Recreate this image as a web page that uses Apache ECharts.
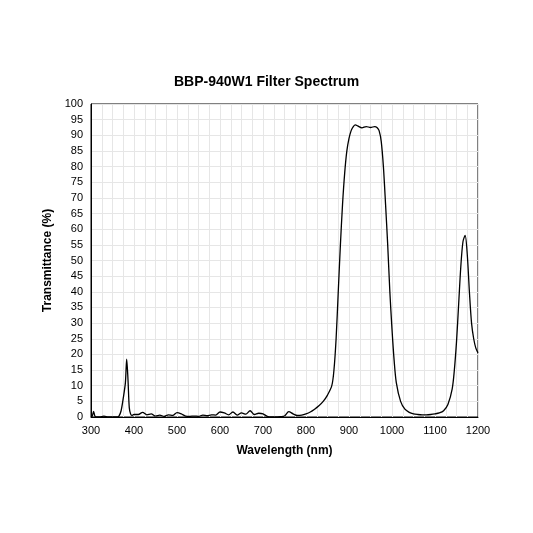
<!DOCTYPE html><html><head><meta charset="utf-8"><script src="https://cdn.jsdelivr.net/npm/echarts@6/dist/echarts.min.js"></script></head><body style="margin:0"><div id="c" style="width:533px;height:533px"></div><script>
const wavelength=[300,303,306,309,312,320,330,340,350,360,365,370,375,380,383,386,389,392,395,400,410,420,430,440,450,460,470,480,490,500,510,520,530,540,550,560,570,580,590,600,610,620,630,640,650,660,670,680,690,700,710,720,730,740,750,760,770,780,790,800,810,820,830,840,850,860,865,870,875,880,885,890,895,900,905,910,915,920,930,940,950,960,965,970,975,980,985,990,995,1000,1005,1010,1020,1030,1040,1050,1060,1070,1080,1090,1100,1110,1120,1130,1140,1145,1150,1155,1160,1165,1170,1175,1180,1185,1190,1195,1200];
const transmittance=[0,0.3,1.8,0.3,0,0,0.3,0,0,0,0.3,2,6,11,18.5,12,3,1,0.5,0.8,0.8,1.5,0.7,1,0.3,0.6,0.2,0.7,0.5,1.4,1,0.3,0.2,0.3,0.2,0.6,0.4,0.7,0.6,1.6,1.3,0.7,1.6,0.6,1.3,0.9,2,0.8,1.2,1,0.2,0,0,0.1,0.3,1.7,1,0.5,0.6,1,1.6,2.5,3.6,5,7,10,15,25,40,55,68,78,85,89,91.5,92.8,93.3,93,92.4,92.8,92.5,92.8,92.5,91.5,88,80,68,55,40,28,18,11,5,2.5,1.5,1,0.8,0.7,0.7,0.8,1,1.3,2,4,9,15,24,36,48,56,58,52,40,30,25,22,20.5];
const chart=echarts.init(document.getElementById('c'));
const data=wavelength.map((w,i)=>[w,transmittance[i]]);
chart.setOption({
 title:{text:'BBP-940W1 Filter Spectrum',left:'center',top:70,textStyle:{fontFamily:'Liberation Sans',fontSize:14,fontWeight:'bold',color:'#000'}},
 grid:{left:91,right:55,top:104,bottom:116,show:true,borderColor:'#000',borderWidth:1},
 xAxis:{type:'value',min:300,max:1200,interval:100,name:'Wavelength (nm)',nameLocation:'middle',nameGap:28,
  nameTextStyle:{fontFamily:'Liberation Sans',fontSize:12,fontWeight:'bold',color:'#000'},
  axisLine:{lineStyle:{color:'#000'}},axisTick:{show:false},axisLabel:{color:'#000',fontFamily:'Liberation Sans',fontSize:11,formatter:v=>String(v)},
  splitLine:{show:true,lineStyle:{color:'#e6e6e6'}},minorTick:{show:false,splitNumber:4},minorSplitLine:{show:true,lineStyle:{color:'#e6e6e6'}}},
 yAxis:{type:'value',min:0,max:100,interval:5,name:'Transmittance (%)',nameLocation:'middle',nameGap:32,
  nameTextStyle:{fontFamily:'Liberation Sans',fontSize:12,fontWeight:'bold',color:'#000'},
  axisLine:{show:true,lineStyle:{color:'#000'}},axisTick:{show:false},axisLabel:{color:'#000',fontFamily:'Liberation Sans',fontSize:11},
  splitLine:{show:true,lineStyle:{color:'#e6e6e6'}}},
 series:[{type:'line',data:data,smooth:0.3,showSymbol:false,lineStyle:{color:'#000',width:1.3},animation:false}]
});
</script></body></html>
